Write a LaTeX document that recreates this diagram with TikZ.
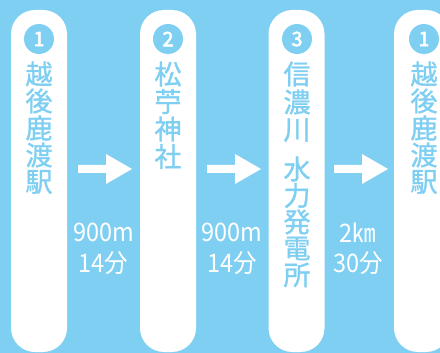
\documentclass[tikz,border=0pt]{standalone}
\usepackage{fontspec}
\setmainfont{Noto Sans CJK JP}
\newfontfamily\cjkmed{Noto Sans CJK JP}[FakeBold=1.2]
\newfontfamily\cjkbold{Noto Sans CJK JP}[FakeBold=2.5]
\definecolor{skyb}{RGB}{127,207,242}
\begin{document}
\begin{tikzpicture}[x=1pt,y=-1pt,
  pillar/.style={fill=white, rounded corners=24pt, minimum width=56pt, minimum height=342pt, inner sep=0pt},
  numcirc/.style={circle, fill=skyb, minimum size=30pt, inner sep=0pt, text=white, font=\cjkbold\fontsize{20}{20}\selectfont},
  kanji/.style={text=skyb, inner sep=0pt, font=\cjkmed\fontsize{27}{27}\selectfont},
  dist/.style={text=white, inner sep=0pt, font=\fontsize{25.5}{25.5}\selectfont},
  blockarrow/.style={fill=white}
]
\fill[skyb] (0,0) rectangle (440,353);
\useasboundingbox (0,0) rectangle (440,353);
% pillars
\node[pillar] (p1) at (39,181) {};
\node[pillar] (p2) at (168,181) {};
\node[pillar] (p3) at (296.5,181) {};
\node[pillar] (p4) at (422,181) {};
% numbers
\node[numcirc] (c1) at (39,39) {1};
\node[numcirc] (c2) at (168,39) {2};
\node[numcirc] (c3) at (297,39) {3};
\node[numcirc] (c4) at (424,39) {1};
% station names
\foreach \c [count=\i] in {越,後,鹿,渡,駅}
  \node[kanji] (a\i) at (39,{74+27*(\i-1)}) {\c};
\foreach \c [count=\i] in {松,苧,神,社}
  \node[kanji] (b\i) at (168,{74+27.5*(\i-1)}) {\c};
\foreach \c [count=\i] in {信,濃,川}
  \node[kanji] (s\i) at (297,{74+28*(\i-1)}) {\c};
\foreach \c [count=\i] in {水,力,発,電,所}
  \node[kanji] (h\i) at (297,{169+26.5*(\i-1)}) {\c};
\foreach \c [count=\i] in {越,後,鹿,渡,駅}
  \node[kanji] (e\i) at (424,{74+27*(\i-1)}) {\c};
% arrows
\coordinate (r1) at (78,169);
\coordinate (r2) at (207,169);
\coordinate (r3) at (334,169);
\foreach \r in {r1,r2,r3}
  \fill[blockarrow] (\r) ++(0,-4) -- ++(28,0) -- ++(0,-11) -- ++(26,15) -- ++(-26,15) -- ++(0,-11) -- ++(-28,0) -- cycle;
% distances
\node[dist] (d1) at (103.5,232) {\scalebox{0.92}[1]{900m}};
\node[dist] (t1) at (103.5,263) {\scalebox{0.92}[1]{14分}};
\node[dist] (d2) at (232,232) {\scalebox{0.92}[1]{900m}};
\node[dist] (t2) at (232,263) {\scalebox{0.92}[1]{14分}};
\node[dist] (d3) at (358,233) {\scalebox{0.92}[1]{2㎞}};
\node[dist] (t3) at (358,263) {\scalebox{0.92}[1]{30分}};
\end{tikzpicture}
\end{document}
